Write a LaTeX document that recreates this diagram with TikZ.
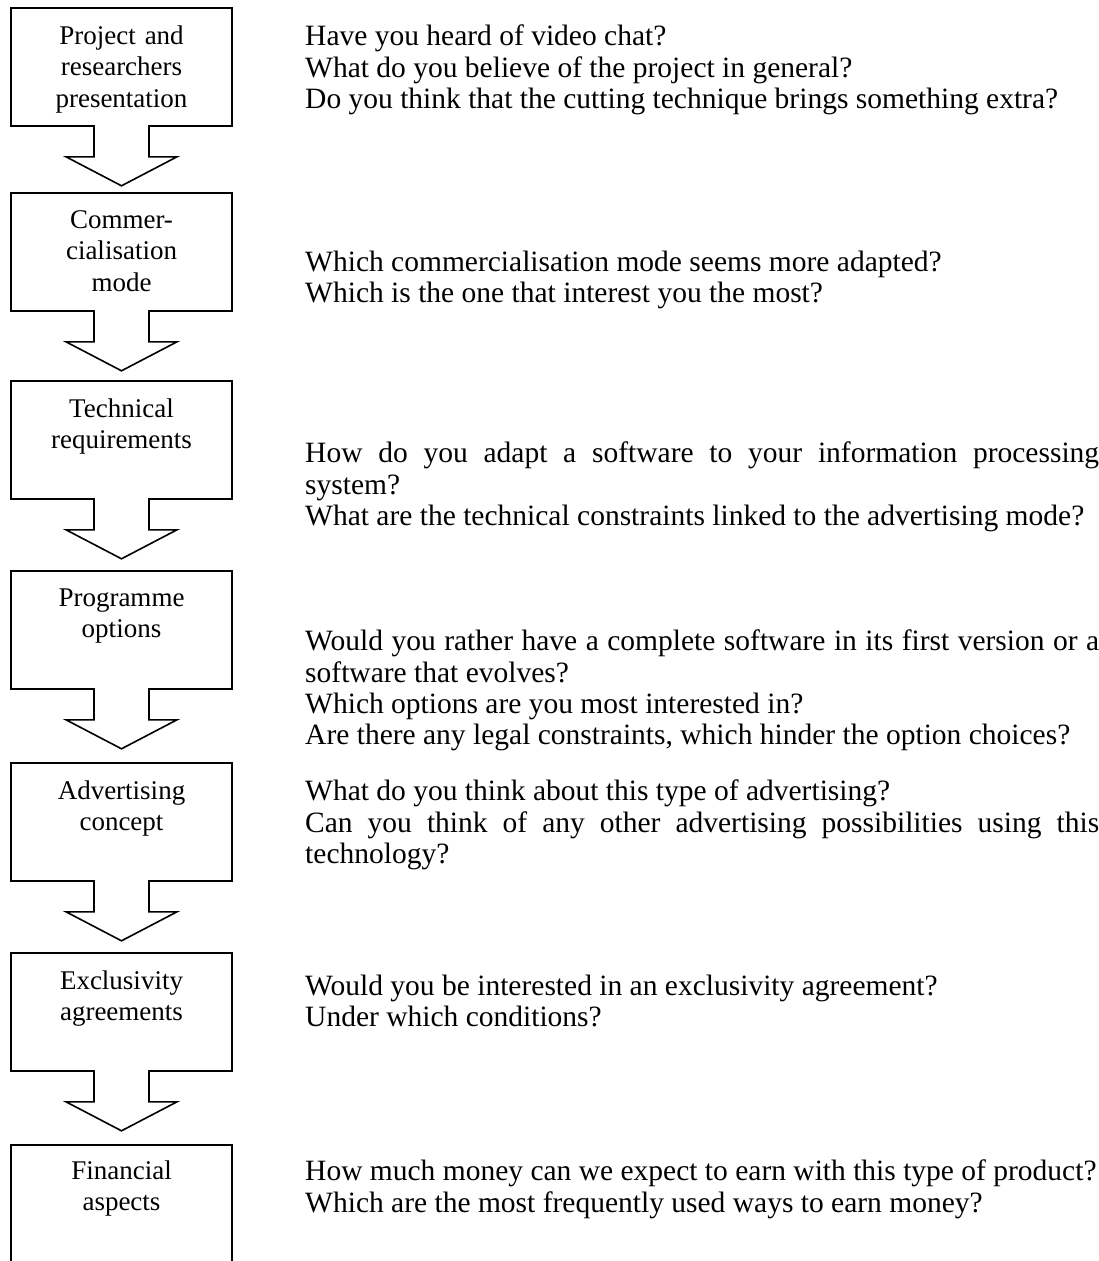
\documentclass[tikz,border=0pt]{standalone}
\usepackage{fontspec}
\setmainfont{Liberation Serif}
\usetikzlibrary{calc}
\begin{document}
\begin{tikzpicture}[x=1pt,y=-1pt,
  box/.style={draw, line width=1.6pt, minimum width=221pt, minimum height=118pt, inner sep=0pt},
  boxtext/.style={anchor=north, inner sep=0pt, text width=215pt, align=center,
    font=\fontsize{27}{31.5}\selectfont},
  qtext/.style={anchor=north west, inner sep=0pt, text width=794pt, align=justify,
    font=\fontsize{29.5}{31.3}\selectfont,
    execute at begin node={\setlength{\parindent}{0pt}\setlength{\parskip}{0pt}\hyphenpenalty=10000\tolerance=9999\emergencystretch=3em}},
  blockarrow/.style={line width=1.6pt, line join=miter},
]
\useasboundingbox (0,0) rectangle (1099,1261);
\clip (0,0) rectangle (1099,1261);

% boxes
\node[box] (b1) at (121.5,67)   {};
\node[box] (b2) at (121.5,252)  {};
\node[box] (b3) at (121.5,440)  {};
\node[box] (b4) at (121.5,630)  {};
\node[box] (b5) at (121.5,822)  {};
\node[box] (b6) at (121.5,1012) {};
\node[box] (b7) at (121.5,1204) {};

% box texts
\node[boxtext] (t1) at ($(b1.north)+(0,18)$) {Project and\\researchers\\presentation};
\node[boxtext] (t2) at ($(b2.north)+(0,18)$) {Commer-\\cialisation\\mode};
\node[boxtext] (t3) at ($(b3.north)+(0,18)$) {Technical\\requirements};
\node[boxtext] (t4) at ($(b4.north)+(0,18)$) {Programme\\options};
\node[boxtext] (t5) at ($(b5.north)+(0,18)$) {Advertising\\concept};
\node[boxtext] (t6) at ($(b6.north)+(0,18)$) {Exclusivity\\agreements};
\node[boxtext] (t7) at ($(b7.north)+(0,16)$) {Financial\\aspects};

% block arrows
\foreach \k in {1,...,6}{
  \fill[white] ($(b\k.south)+(-26.7,-1.5)$) rectangle ($(b\k.south)+(26.7,2)$);
  \draw[blockarrow, fill=white]
    ($(b\k.south)+(-27.5,0)$) -- ++(0,30) -- ++(-28,0)
    -- ($(b\k.south)+(0,59)$)
    -- ($(b\k.south)+(55.5,30)$) -- ++(-28,0)
    -- ($(b\k.south)+(27.5,0)$);
}

% questions
\node[qtext] (q1) at (305,25) {Have you heard of video chat?\par
What do you believe of the project in general?\par
Do you think that the cutting technique brings something extra?};
\node[qtext] (q2) at (305,251) {Which commercialisation mode seems more adapted?\par
Which is the one that interest you the most?};
\node[qtext] (q3) at (305,442) {How do you adapt a software to your information processing\linebreak system?\par
What are the technical constraints linked to the advertising mode?};
\node[qtext] (q4) at (305,630) {Would you rather have a complete software in its first version or a\linebreak software that evolves?\par
Which options are you most interested in?\par
Are there any legal constraints, which hinder the option choices?};
\node[qtext] (q5) at (305,780) {What do you think about this type of advertising?\par
Can you think of any other advertising possibilities using this\linebreak technology?};
\node[qtext] (q6) at (305,975) {Would you be interested in an exclusivity agreement?\par
Under which conditions?};
\node[qtext] (q7) at (305,1160) {How much money can we expect to earn with this type of product?\par
Which are the most frequently used ways to earn money?};
\end{tikzpicture}
\end{document}
